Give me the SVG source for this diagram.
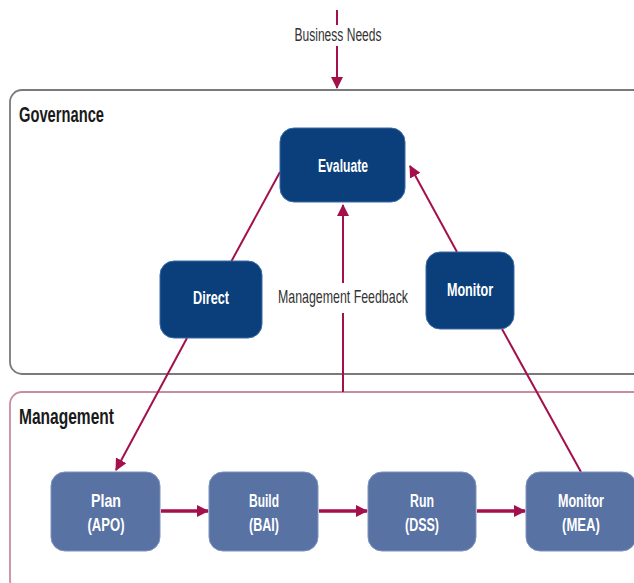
<svg xmlns="http://www.w3.org/2000/svg" width="634" height="583" viewBox="0 0 634 583">
<defs>
<marker id="ah" markerUnits="userSpaceOnUse" markerWidth="12" markerHeight="12" viewBox="0 0 12 12" refX="11" refY="6" orient="auto">
<path d="M0,0 L12,6 L0,12 Z" fill="#a3104c"/>
</marker>
<style>
.lbl{font-family:"Liberation Sans",Arial,sans-serif;font-weight:bold;fill:#ffffff;font-size:18px;text-anchor:middle}
.plain{font-family:"Liberation Sans",Arial,sans-serif;fill:#333333;font-size:18px;text-anchor:middle}
.hdr{font-family:"Liberation Sans",Arial,sans-serif;font-weight:bold;fill:#1a1a1a;font-size:22px}
.gov{fill:#0b3f7c;stroke:#3a6aa6;stroke-width:1}
.mgt{fill:#5872a4;stroke:#7d93bd;stroke-width:1}
.con{stroke:#a3104c;stroke-width:2;fill:none}
.thick{stroke:#a3104c;stroke-width:3.5;fill:none}
</style>
</defs>
<rect width="634" height="583" fill="#ffffff"/>
<g id="governance-area">
<rect x="10" y="90" width="640" height="284" rx="12" fill="#ffffff" stroke="#7a7a7a" stroke-width="1.8"/>
<text class="hdr" x="19" y="122" textLength="85" lengthAdjust="spacingAndGlyphs">Governance</text>
</g>
<g id="management-area">
<rect x="10" y="392" width="640" height="200" rx="12" fill="#ffffff" stroke="#c98da0" stroke-width="1.8"/>
<text class="hdr" x="19" y="424" textLength="95" lengthAdjust="spacingAndGlyphs">Management</text>
</g>
<g id="connectors">
<line class="con" x1="337" y1="10" x2="337" y2="25"/>
<line class="con" x1="337" y1="46" x2="337" y2="88" marker-end="url(#ah)"/>
<line class="con" x1="280" y1="172" x2="231" y2="262"/>
<line class="con" x1="187" y1="338" x2="116" y2="470" marker-end="url(#ah)"/>
<line class="con" x1="457" y1="252" x2="410" y2="166" marker-end="url(#ah)"/>
<line class="con" x1="502" y1="329" x2="581" y2="472"/>
<line class="con" x1="343" y1="392" x2="343" y2="313"/>
<line class="con" x1="343" y1="283" x2="343" y2="205" marker-end="url(#ah)"/>
<line class="thick" x1="161" y1="511" x2="208" y2="511" marker-end="url(#ah)"/>
<line class="thick" x1="319" y1="511" x2="367" y2="511" marker-end="url(#ah)"/>
<line class="thick" x1="477" y1="511" x2="525" y2="511" marker-end="url(#ah)"/>
</g>
<g id="business-needs">
<text class="plain" x="338" y="41" textLength="87" lengthAdjust="spacingAndGlyphs">Business Needs</text>
</g>
<g id="management-feedback">
<text class="plain" transform="translate(343,303) scale(0.688,1)" x="0" y="0">Management Feedback</text>
</g>
<g id="evaluate">
<rect class="gov" x="280" y="128" width="125" height="74" rx="14"/>
<text class="lbl" x="343" y="172" textLength="50" lengthAdjust="spacingAndGlyphs">Evaluate</text>
</g>
<g id="direct">
<rect class="gov" x="160" y="261" width="102" height="77" rx="14"/>
<text class="lbl" x="211" y="304" textLength="36" lengthAdjust="spacingAndGlyphs">Direct</text>
</g>
<g id="monitor">
<rect class="gov" x="426" y="252" width="88" height="77" rx="14"/>
<text class="lbl" transform="translate(470,296) scale(0.7,1)" x="0" y="0">Monitor</text>
</g>
<g id="plan">
<rect class="mgt" x="51" y="472" width="109" height="79" rx="14"/>
<text class="lbl" x="106" y="507" textLength="30" lengthAdjust="spacingAndGlyphs">Plan</text>
<text class="lbl" x="106" y="531" textLength="37" lengthAdjust="spacingAndGlyphs">(APO)</text>
</g>
<g id="build">
<rect class="mgt" x="209" y="472" width="109" height="79" rx="14"/>
<text class="lbl" x="264" y="507" textLength="30" lengthAdjust="spacingAndGlyphs">Build</text>
<text class="lbl" x="264" y="531" textLength="30" lengthAdjust="spacingAndGlyphs">(BAI)</text>
</g>
<g id="run">
<rect class="mgt" x="368" y="472" width="108" height="79" rx="14"/>
<text class="lbl" x="422" y="507" textLength="24" lengthAdjust="spacingAndGlyphs">Run</text>
<text class="lbl" x="422" y="531" textLength="34" lengthAdjust="spacingAndGlyphs">(DSS)</text>
</g>
<g id="monitor-mea">
<rect class="mgt" x="526" y="472" width="110" height="79" rx="14"/>
<text class="lbl" x="581" y="507" textLength="46" lengthAdjust="spacingAndGlyphs">Monitor</text>
<text class="lbl" x="581" y="531" textLength="38" lengthAdjust="spacingAndGlyphs">(MEA)</text>
</g>
</svg>
